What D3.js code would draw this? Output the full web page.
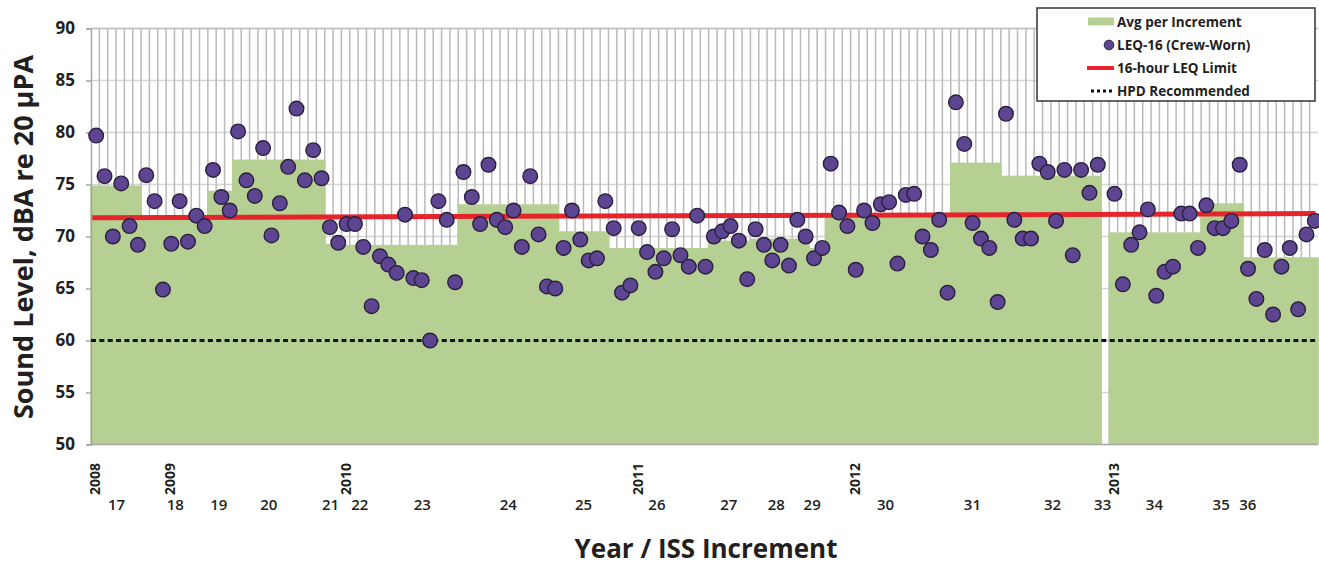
<!DOCTYPE html>
<html>
<head>
<meta charset="utf-8">
<script src="https://cdn.jsdelivr.net/npm/d3@7"></script>
<style>
  body { margin: 0; background: #fff; }
  svg text { font-family: "Open Sans", "DejaVu Sans", sans-serif; fill: #231f20; }
</style>
</head>
<body>
<svg id="chart" width="1319" height="571"></svg>
<script>
// Crew-worn 16-hour LEQ readings, one per sample slot (null = no reading)
const leq = [
  79.7, 75.8, 70.0, 75.1, 71.0, 69.2, 75.9, 73.4, 64.9, 69.3,
  73.4, 69.5, 72.0, 71.0, 76.4, 73.8, 72.5, 80.1, 75.4, 73.9,
  78.5, 70.1, 73.2, 76.7, 82.3, 75.4, 78.3, 75.6, 70.9, 69.4,
  71.2, 71.2, 69.0, 63.3, 68.1, 67.3, 66.5, 72.1, 66.0, 65.8,
  60.0, 73.4, 71.6, 65.6, 76.2, 73.8, 71.2, 76.9, 71.6, 70.9,
  72.5, 69.0, 75.8, 70.2, 65.2, 65.0, 68.9, 72.5, 69.7, 67.7,
  67.9, 73.4, 70.8, 64.6, 65.3, 70.8, 68.5, 66.6, 67.9, 70.7,
  68.2, 67.1, 72.0, 67.1, 70.0, 70.5, 71.0, 69.6, 65.9, 70.7,
  69.2, 67.7, 69.2, 67.2, 71.6, 70.0, 67.9, 68.9, 77.0, 72.3,
  71.0, 66.8, 72.5, 71.3, 73.1, 73.3, 67.4, 74.0, 74.1, 70.0,
  68.7, 71.6, 64.6, 82.9, 78.9, 71.3, 69.8, 68.9, 63.7, 81.8,
  71.6, 69.8, 69.8, 77.0, 76.2, 71.5, 76.4, 68.2, 76.4, 74.2,
  76.9, null, 74.1, 65.4, 69.2, 70.4, 72.6, 64.3, 66.6, 67.1,
  72.2, 72.2, 68.9, 73.0, 70.8, 70.8, 71.5, 76.9, 66.9, 64.0,
  68.7, 62.5, 67.1, 68.9, 63.0, 70.2, 71.5
];

// ISS increments: first sample slot of each, and the increment average
const increments   = ["17","18","19","20","21","22","23","24","25","26","27","28","29","30","31","32","33","34","35","36"];
const incFirstSlot = [0, 6, 14, 17, 28, 30, 35, 44, 56, 62, 74, 79, 86, 88, 103, 109, 121, 122, 133, 138];
const incAverage   = [74.9, 72.0, 74.4, 77.4, 69.3, 69.2, 69.2, 73.1, 70.5, 68.9, 69.6, 69.8, 68.9, 72.0, 77.1, 75.85, null, 70.4, 73.2, 68.0];
// where each increment number is printed, in sample-slot units
const incLabelAt   = [3.05, 10.1, 15.3, 21.3, 28.7, 32.2, 39.7, 50.0, 59.0, 67.8, 76.4, 82.1, 86.4, 95.2, 105.6, 115.2, 121.2, 127.4, 135.4, 138.6];

// calendar years and the sample slot where each begins
const years         = ["2008","2009","2010","2011","2012","2013"];
const yearFirstSlot = [0, 9, 30, 65, 91, 122];

// reference levels
const leqLimit = [71.8, 72.2];   // 16-hour LEQ limit, drawn across the full span
const hpdLevel = 60;             // hearing protection recommended
const yTicks   = [50, 55, 60, 65, 70, 75, 80, 85, 90];

const svg = d3.select("#chart");
const plot = { left: 91, right: 1318, top: 28.5, bottom: 444.5 };
const nSlots = leq.length;

const x = d3.scaleLinear().domain([0, nSlots]).range([plot.left, plot.right]);
const y = d3.scaleLinear().domain([50, 90]).range([plot.bottom, plot.top]);

// gridlines
const grid = svg.append("g");
grid.selectAll("line.h").data(yTicks.filter(t => t > 50)).join("line")
  .attr("x1", plot.left).attr("x2", plot.right)
  .attr("y1", d => y(d)).attr("y2", d => y(d))
  .attr("stroke", "#d4d4d4").attr("stroke-width", 1.5);
grid.selectAll("line.v").data(d3.range(1, nSlots)).join("line")
  .attr("x1", d => x(d)).attr("x2", d => x(d))
  .attr("y1", plot.top).attr("y2", plot.bottom)
  .attr("stroke", "#bababa").attr("stroke-width", 1.5);

// increment average blocks
const blocks = increments.map((name, i) => ({
  name,
  start: incFirstSlot[i],
  end: i + 1 < increments.length ? incFirstSlot[i + 1] : nSlots,
  avg: incAverage[i]
})).filter(d => d.avg != null);

svg.append("g").selectAll("rect").data(blocks).join("rect")
  .attr("x", d => x(d.start) - 0.8)
  .attr("width", d => x(d.end) - x(d.start) + 1.6)
  .attr("y", d => y(d.avg))
  .attr("height", d => y(50) - y(d.avg))
  .attr("fill", "#b6cf92");

// axes
const yAxis = svg.append("g")
  .attr("transform", `translate(${plot.left},0)`)
  .call(d3.axisLeft(y).tickValues(yTicks).tickSize(5).tickPadding(11));
yAxis.select(".domain").attr("stroke", "#a6a6a6").attr("stroke-width", 1.5);
yAxis.selectAll(".tick line").attr("stroke", "#a6a6a6").attr("stroke-width", 1.5);
yAxis.selectAll(".tick text")
  .attr("font-size", 17).attr("font-weight", 700)
  .style("font-family", '"Open Sans", sans-serif').attr("fill", "#3a3a3a");

svg.append("line")
  .attr("x1", plot.left).attr("x2", plot.right)
  .attr("y1", plot.bottom).attr("y2", plot.bottom)
  .attr("stroke", "#a6a6a6").attr("stroke-width", 1.5);
svg.append("line")
  .attr("x1", plot.left).attr("x2", plot.right)
  .attr("y1", plot.top).attr("y2", plot.top)
  .attr("stroke", "#bdbdbd").attr("stroke-width", 1.5);

// reference lines
const refLine = d3.line().x(d => x(d[0])).y(d => y(d[1]));
svg.append("path")
  .attr("d", refLine([[0, hpdLevel], [nSlots, hpdLevel]]))
  .attr("stroke", "#111").attr("stroke-width", 3)
  .attr("stroke-dasharray", "5,3.35").attr("fill", "none");
svg.append("path")
  .attr("d", refLine([[0.15, leqLimit[0]], [nSlots - 0.3, leqLimit[1]]]))
  .attr("stroke", "#e5252b").attr("stroke-width", 5).attr("fill", "none");

// crew-worn readings
svg.append("g").selectAll("circle")
  .data(leq.map((v, i) => ({ i, v })).filter(d => d.v != null))
  .join("circle")
  .attr("cx", d => x(d.i + 0.5) + 1)
  .attr("cy", d => y(d.v))
  .attr("r", 7.3)
  .attr("fill", "#5d4592")
  .attr("stroke", "#2b1f3f").attr("stroke-width", 1.4);

// year labels (rotated)
svg.append("g").selectAll("text").data(years).join("text")
  .attr("transform", (d, i) => `translate(${x(yearFirstSlot[i] + 0.5) + 5},495) rotate(-90)`)
  .attr("font-size", 14).attr("font-weight", 700).attr("fill", "#3a3a3a")
  .text(d => d);

// increment labels
svg.append("g").selectAll("text").data(increments).join("text")
  .attr("x", (d, i) => x(incLabelAt[i]))
  .attr("y", 510)
  .attr("text-anchor", "middle")
  .attr("font-size", 15).attr("font-weight", 600).attr("fill", "#3a3a3a")
  .text(d => d);

// axis titles
svg.append("text")
  .attr("x", 706).attr("y", 558)
  .attr("text-anchor", "middle")
  .attr("font-size", 26).attr("font-weight", 700)
  .text("Year / ISS Increment");
svg.append("text")
  .attr("transform", "translate(33,237) rotate(-90)")
  .attr("text-anchor", "middle")
  .attr("font-size", 27).attr("font-weight", 700)
  .text("Sound Level, dBA re 20 µPA");

// legend
const lg = svg.append("g").attr("transform", "translate(1037,8)");
lg.append("rect").attr("width", 278).attr("height", 93)
  .attr("fill", "#fff").attr("stroke", "#333").attr("stroke-width", 1.5);
const rows = [
  { label: "Avg per Increment", type: "bar" },
  { label: "LEQ-16 (Crew-Worn)", type: "dot" },
  { label: "16-hour LEQ Limit", type: "limit" },
  { label: "HPD Recommended", type: "hpd" }
];
const row = lg.selectAll("g.row").data(rows).join("g")
  .attr("transform", (d, i) => `translate(0,${14 + i * 23})`);
row.filter(d => d.type === "bar").append("rect")
  .attr("x", 51).attr("y", -4.5).attr("width", 26).attr("height", 8).attr("fill", "#b6cf92");
row.filter(d => d.type === "dot").append("circle")
  .attr("cx", 72).attr("cy", 0).attr("r", 4.8)
  .attr("fill", "#5d4592").attr("stroke", "#2b1f3f").attr("stroke-width", 1);
row.filter(d => d.type === "limit").append("line")
  .attr("x1", 50).attr("x2", 77).attr("y1", 0).attr("y2", 0)
  .attr("stroke", "#e5252b").attr("stroke-width", 4);
row.filter(d => d.type === "hpd").append("line")
  .attr("x1", 54).attr("x2", 77).attr("y1", 0).attr("y2", 0)
  .attr("stroke", "#111").attr("stroke-width", 3).attr("stroke-dasharray", "3,3");
row.append("text")
  .attr("x", 80).attr("y", 5)
  .attr("font-size", 13.5).attr("font-weight", 700)
  .text(d => d.label);
</script>
</body>
</html>
